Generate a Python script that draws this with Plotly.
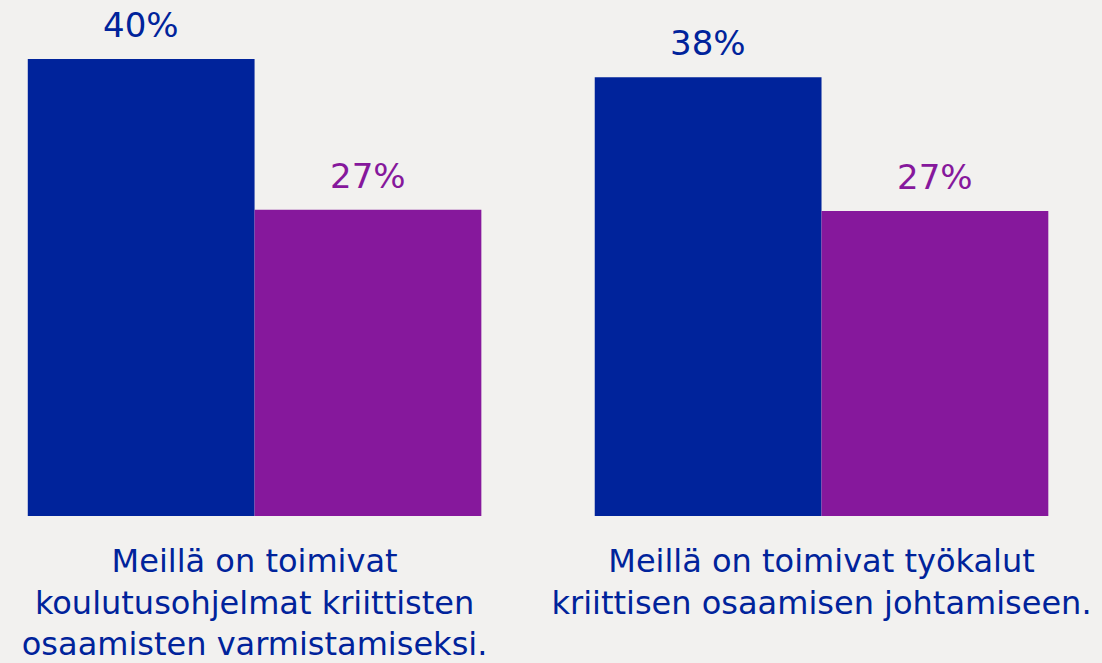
import plotly.graph_objects as go

categories = [
    "Meillä on toimivat<br>koulutusohjelmat kriittisten<br>osaamisten varmistamiseksi.",
    "Meillä on toimivat työkalut<br>kriittisen osaamisen johtamiseen.",
]
series_a = [40, 38.4]
series_b = [26.8, 26.7]

BLUE = "#00239B"
PURPLE = "#86189C"
BG = "#F2F1EF"
FONT = "DejaVu Sans"

xpos = list(range(len(categories)))

fig = go.Figure()
fig.add_trace(go.Bar(x=xpos, y=series_a, marker=dict(color=BLUE, line=dict(width=0)), name="A"))
fig.add_trace(go.Bar(x=xpos, y=series_b, marker=dict(color=PURPLE, line=dict(width=0)), name="B"))

for i in xpos:
    fig.add_annotation(x=i - 0.2, y=series_a[i], text=f"{round(series_a[i])}%", showarrow=False,
                       yanchor="bottom", yshift=12, font=dict(family=FONT, size=34, color=BLUE))
    fig.add_annotation(x=i + 0.2, y=series_b[i], text=f"{round(series_b[i])}%", showarrow=False,
                       yanchor="bottom", yshift=12, font=dict(family=FONT, size=34, color=PURPLE))

fig.update_layout(
    width=1102, height=663,
    margin=dict(l=0, r=0, t=0, b=147),
    paper_bgcolor=BG, plot_bgcolor=BG,
    barmode="group", bargap=0.2, bargroupgap=0,
    showlegend=False,
    xaxis=dict(range=[-0.449, 1.4947], tickvals=xpos, ticktext=categories,
               tickfont=dict(family=FONT, size=32, color=BLUE), showgrid=False,
               zeroline=False, showline=False, ticks="", ticklabelstandoff=23),
    yaxis=dict(range=[0, 45.16], visible=False, showgrid=False, zeroline=False),
)

fig.write_html(
    "out.html",
    config={"displayModeBar": False},
    post_script="document.body.style.margin='0px';document.body.style.background='#F2F1EF';",
)
